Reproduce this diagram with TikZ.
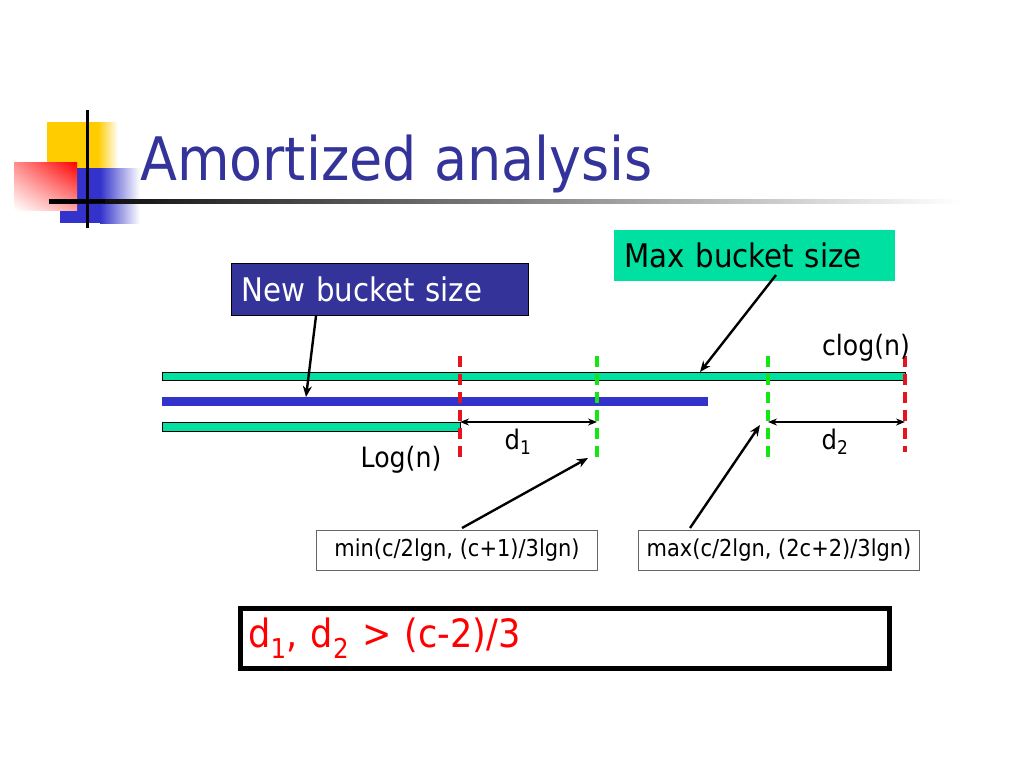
\documentclass[tikz,border=0pt]{standalone}
\usepackage{fontspec}
\setmainfont{DejaVu Sans}[FakeStretch=0.9]
\usepackage{tikz}
\usetikzlibrary{arrows.meta,shadings}

\definecolor{titleblue}{RGB}{51,51,153}
\definecolor{sea}{RGB}{0,224,160}
\definecolor{barblue}{RGB}{51,51,204}
\definecolor{logoyellow}{RGB}{255,204,0}
\definecolor{dashred}{RGB}{230,20,30}
\definecolor{dashgreen}{RGB}{20,230,20}

\tikzset{
  bar/.style={draw=black,line width=1pt},
  mark line/.style={line width=3.2pt,dash pattern=on 11pt off 7pt},
  pointer/.style={-{Stealth[length=11pt,width=9pt]},line width=2.4pt},
  gap/.style={{Stealth[length=9pt,width=7pt]}-{Stealth[length=9pt,width=7pt]},line width=1.6pt},
  tag/.style={anchor=north west,align=left,inner xsep=10pt,font=\fontsize{32.5}{36}\selectfont},
  boundbox/.style={draw=black!60,fill=white,line width=1pt,inner xsep=4pt,minimum width=281pt,minimum height=40pt,font=\fontsize{23.3}{27}\selectfont},
  lbl/.style={font=\fontsize{28}{32}\selectfont}
}

\begin{document}
\begin{tikzpicture}[x=1pt,y=-1pt]
    \useasboundingbox (0,0) rectangle (1024,768);
    % logo
    \fill[logoyellow] (47,122) rectangle (98,168);
    \shade[left color=logoyellow,right color=white] (98,122) rectangle (118,168);
    \fill[barblue] (60,168) rectangle (100,223);
    \shade[left color=barblue,right color=white] (100,168) rectangle (140,223);
    \shade[upper left=red!45,upper right=red,lower left=white,lower right=red!35] (14,162) rectangle (77,210);
    \shade[left color=black,right color=white] (49,199) rectangle (960,203);
    \fill[black] (49,199) rectangle (105,203);
    \draw[line width=3pt] (87,110) -- (87,228);
    % title
    \node[anchor=base west,text=titleblue,font=\fontsize{60}{66}\selectfont,inner sep=0pt] (title) at (140,180) {Amortized analysis};

    % bars
    \draw[bar,fill=sea] (162,372) rectangle (905,380);
    \fill[barblue] (162,397) rectangle (708,406);
    \draw[bar,fill=sea] (162,422) rectangle (460,431);
    \coordinate (top) at (700,372);
    \coordinate (mid) at (306,397);

    % dashed marks
    \draw[mark line,dashred] (460,356) -- (460,460);
    \draw[mark line,dashgreen] (597,356) -- (597,460);
    \draw[mark line,dashgreen] (768,356) -- (768,460);
    \draw[mark line,dashred] (905,356) -- (905,452);

    % gaps
    \coordinate (a1) at (460,422);
    \coordinate (b1) at (597,422);
    \coordinate (a2) at (768,422);
    \coordinate (b2) at (905,422);
    \draw[gap] (a1) -- (b1);
    \draw[gap] (a2) -- (b2);
    \node[font=\fontsize{27}{30}\selectfont] (d1) at (518,442) {d\textsubscript{1}};
    \node[font=\fontsize{27}{30}\selectfont] (d2) at (835,442) {d\textsubscript{2}};
    \node[lbl] (logn) at (401,460) {Log(n)};
    \node[lbl] (clogn) at (866,348) {clog(n)};

    % labels
    \node[tag,draw=black,fill=titleblue,text=white,minimum width=297pt,minimum height=52pt,text width=277pt,line width=1pt] (new) at (231,263) {New bucket size};
    \node[tag,fill=sea,minimum width=281pt,minimum height=51pt,text width=261pt] (max) at (614,230) {Max bucket size};
    \draw[pointer] (316,316) -- (mid);
    \draw[pointer] (776,275) -- (top);

    \node[boundbox,anchor=north west] (lo) at (316,530) {min(c/2lgn, (c+1)/3lgn)};
    \node[boundbox,anchor=north west] (hi) at (638,530) {max(c/2lgn, (2c+2)/3lgn)};
    \draw[pointer] (462,528) -- (588,458);
    \draw[pointer] (690,528) -- (760,425);

    % result
    \node[draw=black,line width=4.5pt,anchor=north west,align=left,inner xsep=8pt,minimum width=649pt,minimum height=60pt,text width=633pt,text=red,font=\fontsize{39}{43}\selectfont] (res) at (238,606) {d\textsubscript{1}, d\textsubscript{2} > (c-2)/3};
\end{tikzpicture}
\end{document}
